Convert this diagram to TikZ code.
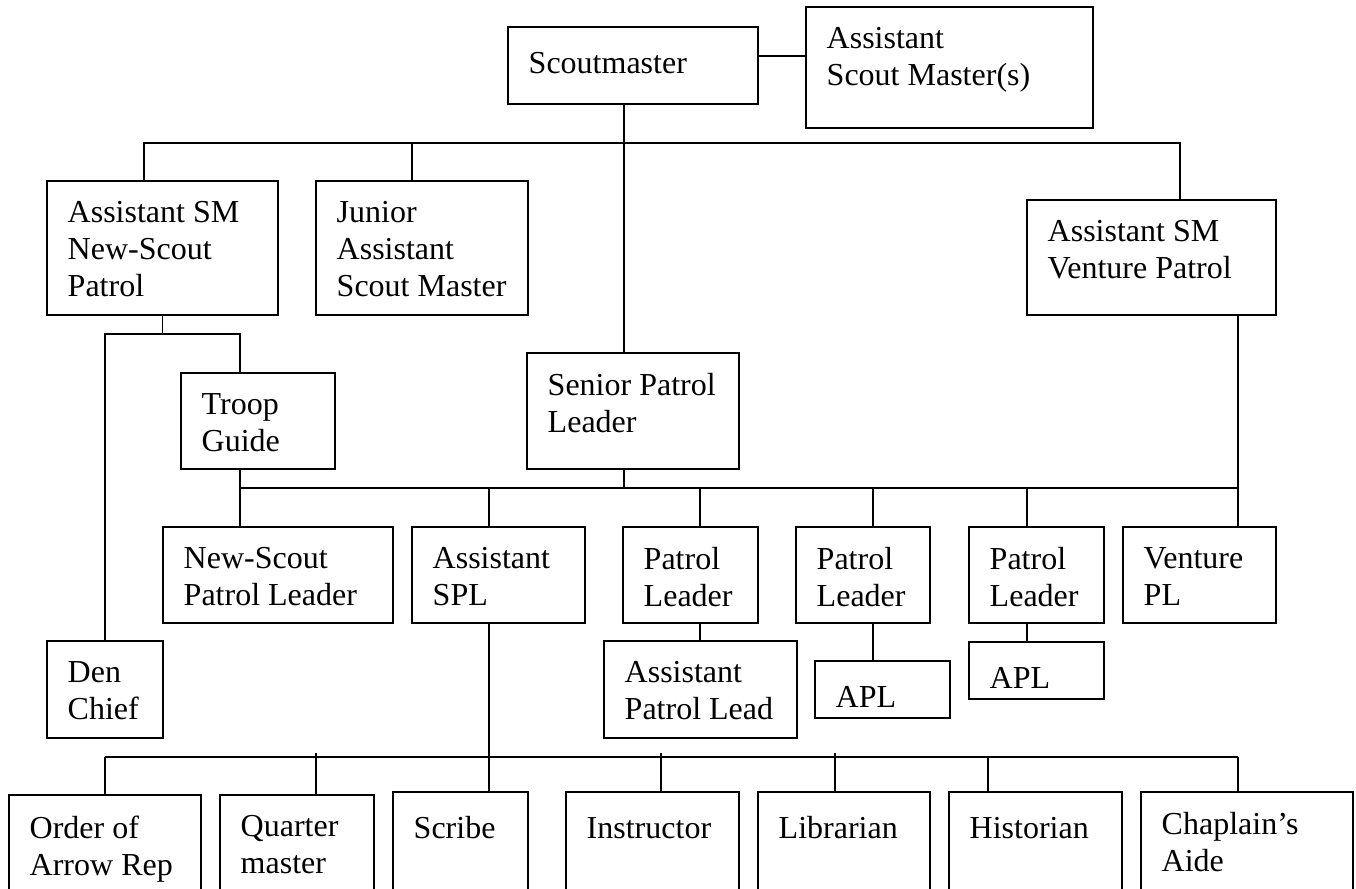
\documentclass[tikz,border=0pt]{standalone}
\usepackage{fontspec}
\setmainfont{Liberation Serif}
\usepackage{tikz}
\usetikzlibrary{calc}
\usetikzlibrary{fit}
\newcommand{\TikZscale}{0.375}
\tikzset{every picture/.style={x=\TikZscale pt, y=-\TikZscale pt, font=\fontsize{12}{13.8}\selectfont}}
\tikzstyle{box}		= [draw, semithick, inner sep=0pt]
\tikzstyle{txt}		= [inner sep=0pt, anchor=north west, align=left, execute at begin node=\strut]
\tikzstyle{conn}	= [semithick]
\tikzstyle{over}	= [shorten <=-1.5pt]

\begin{document}
\begin{tikzpicture}
	\clip (0,0) rectangle (1356,888);

	% Leitung
	\node[box, fit={(508,27) (758,104)}]	(sm)	{};
	\node[txt] (smt) at ([shift={(21,21)}]sm.north west) {Scoutmaster};
	\node[box, fit={(806,7) (1093,128)}]	(asms)	{};
	\node[txt] (asmst) at ([shift={(21,21)}]asms.north west) {Assistant\\Scout Master(s)};

	% Assistenten
	\node[box, fit={(47,181) (278,315)}]	(asmnsp)	{};
	\node[txt] (asmnspt) at ([shift={(21,21)}]asmnsp.north west) {Assistant SM\\New-Scout\\Patrol};
	\node[box, fit={(316,181) (528,315)}]	(jasm)	{};
	\node[txt] (jasmt) at ([shift={(21,21)}]jasm.north west) {Junior\\Assistant\\Scout Master};
	\node[box, fit={(1027,200) (1276,315)}]	(asmvp)	{};
	\node[txt] (asmvpt) at ([shift={(21,21)}]asmvp.north west) {Assistant SM\\Venture Patrol};
	\node[box, fit={(181,373) (335,469)}]	(tg)	{};
	\node[txt] (tgt) at ([shift={(21,21)}]tg.north west) {Troop\\Guide};
	\node[box, fit={(527,353) (739,469)}]	(spl)	{};
	\node[txt] (splt) at ([shift={(21,21)}]spl.north west) {Senior Patrol\\Leader};

	% Patrouillen
	\node[box, fit={(163,527) (393,623)}]	(nspl)	{};
	\node[txt] (nsplt) at ([shift={(21,21)}]nspl.north west) {New-Scout\\Patrol Leader};
	\node[box, fit={(412,527) (585,623)}]	(aspl)	{};
	\node[txt] (asplt) at ([shift={(21,21)}]aspl.north west) {Assistant\\SPL};
	\node[box, fit={(623,527) (758,623)}]	(pl1)	{};
	\node[txt] (pl1t) at ([shift={(21,21)}]pl1.north west) {Patrol\\Leader};
	\node[box, fit={(796,527) (930,623)}]	(pl2)	{};
	\node[txt] (pl2t) at ([shift={(21,21)}]pl2.north west) {Patrol\\Leader};
	\node[box, fit={(969,527) (1104,623)}]	(pl3)	{};
	\node[txt] (pl3t) at ([shift={(21,21)}]pl3.north west) {Patrol\\Leader};
	\node[box, fit={(1123,527) (1276,623)}]	(vpl)	{};
	\node[txt] (vplt) at ([shift={(21,21)}]vpl.north west) {Venture\\PL};

	\node[box, fit={(47,641) (163,738)}]	(den)	{};
	\node[txt] (dent) at ([shift={(21,21)}]den.north west) {Den\\Chief};
	\node[box, fit={(604,641) (797,738)}]	(apll)	{};
	\node[txt] (apllt) at ([shift={(21,21)}]apll.north west) {Assistant\\Patrol Lead};
	\node[box, fit={(815,661) (950,718)}]	(apl1)	{};
	\node[txt] (apl1t) at ([shift={(21,21)}]apl1.north west) {APL};
	\node[box, fit={(969,642) (1104,699)}]	(apl2)	{};
	\node[txt] (apl2t) at ([shift={(21,21)}]apl2.north west) {APL};

	% Aemter
	\node[box, fit={(9,795) (201,900)}]	(oar)	{};
	\node[txt] (oart) at ([shift={(21,21)}]oar.north west) {Order of\\Arrow Rep};
	\node[box, fit={(220,795) (374,900)}]	(qm)	{};
	\node[txt] (qmt) at ([shift={(21,21)}]qm.north west) {Quarter\\master};
	\node[box, fit={(393,792) (528,900)}]	(scribe)	{};
	\node[txt] (scribet) at ([shift={(21,21)}]scribe.north west) {Scribe};
	\node[box, fit={(566,792) (739,900)}]	(instr)	{};
	\node[txt] (instrt) at ([shift={(21,21)}]instr.north west) {Instructor};
	\node[box, fit={(758,792) (930,900)}]	(lib)	{};
	\node[txt] (libt) at ([shift={(21,21)}]lib.north west) {Librarian};
	\node[box, fit={(949,792) (1122,900)}]	(hist)	{};
	\node[txt] (histt) at ([shift={(21,21)}]hist.north west) {Historian};
	\node[box, fit={(1141,792) (1353,900)}]	(chap)	{};
	\node[txt] (chapt) at ([shift={(21,21)}]chap.north west) {Chaplain’s\\Aide};

	% Verbindungen oben
	\coordinate (smlink)	at (782,56);
	\coordinate (spine)	at (624,143);
	\coordinate (bus1w)	at (144,143);
	\coordinate (bus1e)	at (1180,143);
	\draw[conn] (sm.east |- smlink) -- (asms.west |- smlink);
	\draw[conn] (sm.south -| spine) -- (spl.north -| spine);
	\draw[conn] (asmnsp.north -| bus1w) -- (bus1w) -- (bus1e) -- (asmvp.north -| bus1e);
	\draw[conn] (bus1w -| 412,0) -- (jasm.north -| 412,0);

	% New-Scout Zweig
	\coordinate (bus0w)	at (105,334);
	\coordinate (bus0e)	at (240,334);
	\draw[conn] (asmnsp.south) -- (asmnsp.south |- bus0w);
	\draw[conn] (den.north) -- (bus0w) -- (bus0e) -- (tg.north -| bus0e);

	% Patrouillen-Leitung
	\coordinate (bus2w)	at (240,488);
	\coordinate (bus2e)	at (1238,488);
	\draw[conn] (bus2w) -- (bus2e);
	\draw[conn] (tg.south -| bus2w) -- (nspl.north -| bus2w);
	\draw[conn] (spl.south -| spine) -- (bus2w -| spine);
	\draw[conn] (asmvp.south -| bus2e) -- (vpl.north -| bus2e);
	\foreach \n/\x in {aspl/489, pl1/700, pl2/873, pl3/1027}
		\draw[conn] (bus2w -| \x,0) -- (\n.north -| \x,0);
	\foreach \a/\b/\x in {pl1/apll/700, pl2/apl1/873, pl3/apl2/1027}
		\draw[conn] (\a.south -| \x,0) -- (\b.north -| \x,0);

	% Aemter-Leitung
	\coordinate (bus3w)	at (105,757);
	\coordinate (bus3e)	at (1238,757);
	\draw[conn] (bus3w) -- (bus3e);
	\draw[conn] (aspl.south -| 489,0) -- (scribe.north -| 489,0);
	\foreach \n/\x in {oar/105, hist/988, chap/1238}
		\draw[conn] (bus3w -| \x,0) -- (\n.north -| \x,0);
	\foreach \n/\x in {qm/316, instr/661, lib/835}
		\draw[conn, over] (bus3w -| \x,0) -- (\n.north -| \x,0);
\end{tikzpicture}
\end{document}
